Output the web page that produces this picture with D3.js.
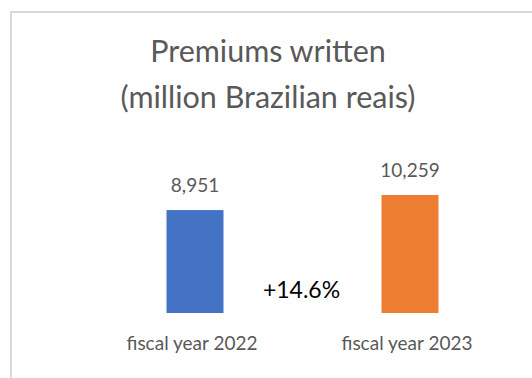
<!DOCTYPE html>
<html>
<head>
<meta charset="utf-8">
<script src="https://cdn.jsdelivr.net/npm/d3@7"></script>
<style>
  html, body { margin: 0; padding: 0; background: #fff; }
  svg { display: block; }
  text { font-family: Lato, "Open Sans", sans-serif; }
</style>
</head>
<body>
<svg id="chart" width="532" height="378"></svg>
<script>
(function() {

  // Chart data.
  var categories = ["fiscal year 2022", "fiscal year 2023"];
  var values = [8951, 10259];
  var colours = ["#4472C4", "#ED7D31"];
  var titleLines = ["Premiums written", "(million Brazilian reais)"];
  var changeLabel = "+14.6%";

  var vis = d3.select("#chart");

  // Chart area frame (runs off the picture on right and bottom).
  vis.append("rect")
    .attr("x", 11)
    .attr("y", 12)
    .attr("width", 700)
    .attr("height", 600)
    .attr("fill", "none")
    .attr("stroke", "#d9d9d9")
    .attr("stroke-width", 2);

  // Title.
  vis.selectAll(".title")
    .data(titleLines)
    .enter()
    .append("text")
    .attr("class", "title")
    .attr("x", 268)
    .attr("y", function(d, i) { return 62 + i * 46; })
    .attr("text-anchor", "middle")
    .attr("font-size", 30.5)
    .attr("fill", "#595959")
    .text(function(d) { return d; });

  // Scales.
  var x = d3.scaleBand()
    .domain(categories)
    .range([87.5, 517.5])
    .paddingInner(0.735)
    .paddingOuter(0.3675);

  var y = d3.scaleLinear()
    .domain([0, 12000])
    .range([313, 175]);

  var rows = categories.map(function(c, i) {
    return { cat: c, value: values[i], colour: colours[i] };
  });

  // Bars.
  vis.selectAll(".bar")
    .data(rows)
    .enter()
    .append("rect")
    .attr("class", "bar")
    .attr("x", function(d) { return x(d.cat); })
    .attr("y", function(d) { return y(d.value); })
    .attr("width", x.bandwidth())
    .attr("height", function(d) { return y(0) - y(d.value); })
    .attr("fill", function(d) { return d.colour; });

  // Value labels.
  vis.selectAll(".value")
    .data(rows)
    .enter()
    .append("text")
    .attr("class", "value")
    .attr("x", function(d) { return x(d.cat) + x.bandwidth() / 2; })
    .attr("y", function(d) { return y(d.value) - 18; })
    .attr("text-anchor", "middle")
    .attr("font-size", 19)
    .attr("fill", "#595959")
    .text(function(d) { return d3.format(",")(d.value); });

  // Category labels.
  vis.selectAll(".cat")
    .data(rows)
    .enter()
    .append("text")
    .attr("class", "cat")
    .attr("x", function(d) { return x(d.cat) + x.bandwidth() / 2 - 3; })
    .attr("y", 350)
    .attr("text-anchor", "middle")
    .attr("font-size", 19)
    .attr("fill", "#595959")
    .text(function(d) { return d.cat; });

  // Growth label between the bars.
  var mid = (x(categories[0]) + x(categories[1]) + x.bandwidth()) / 2;
  vis.append("text")
    .attr("x", mid - 1)
    .attr("y", 298)
    .attr("text-anchor", "middle")
    .attr("font-size", 23)
    .attr("fill", "#000")
    .text(changeLabel);

})();
</script>
</body>
</html>
